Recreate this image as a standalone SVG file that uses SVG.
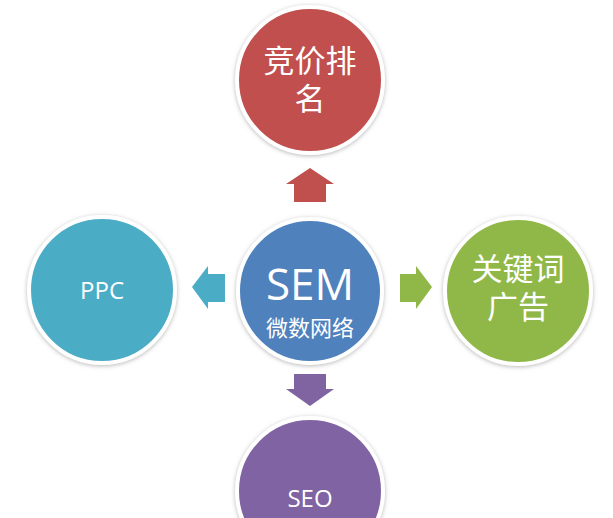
<svg xmlns="http://www.w3.org/2000/svg" width="613" height="518" viewBox="0 0 613 518">
<defs>
<filter id="sh" x="-20%" y="-20%" width="140%" height="140%"><feDropShadow dx="0" dy="1" stdDeviation="2" flood-color="#888" flood-opacity="0.6"/></filter>
<style>
.c{stroke:#fff;stroke-width:4;filter:url(#sh)}
.t{font-family:"Open Sans","Noto Sans CJK SC",sans-serif;fill:#fff;text-anchor:middle}
</style>
</defs>
<rect width="613" height="518" fill="#fff"/>
<g id="connectors">
<polygon points="310,168 334,184 326,184 326,202 294,202 294,184 286,184" fill="#c0504d"/>
<polygon points="192,287 208,266 208,274 225,274 225,302 208,302 208,309" fill="#4bacc6"/>
<polygon points="432,287 416,266 416,274 400,274 400,302 416,302 416,309" fill="#8fb848"/>
<polygon points="310,406 334,389 326,389 326,374 294,374 294,389 286,389" fill="#8064a2"/>
</g>
<g id="top"><circle class="c" cx="310" cy="80" r="73" fill="#c0504d"/>
<text class="t" x="310" y="72" font-size="31">竞价排</text><text class="t" x="310" y="110" font-size="31">名</text></g>
<g id="ppc"><circle class="c" cx="102" cy="290" r="73" fill="#4bacc6"/>
<text class="t" x="102" y="299" font-size="24">PPC</text></g>
<g id="kw"><circle class="c" cx="518" cy="291" r="73" fill="#8fb848"/>
<text class="t" x="518" y="280" font-size="31">关键词</text><text class="t" x="518" y="318" font-size="31">广告</text></g>
<g id="seo"><circle class="c" cx="310" cy="491" r="73" fill="#8064a2"/>
<text class="t" x="310" y="507" font-size="24">SEO</text></g>
<g id="sem"><circle class="c" cx="310" cy="291" r="72" fill="#4f81bd"/>
<text class="t" x="310" y="300" font-size="44">SEM</text><text class="t" x="310" y="336" font-size="22">微数网络</text></g>
</svg>
